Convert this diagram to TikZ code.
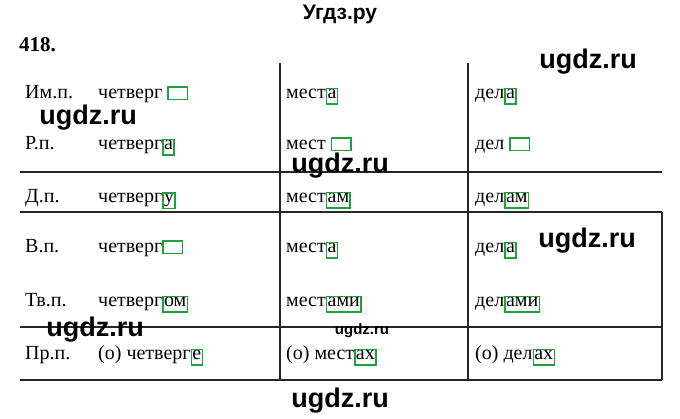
\documentclass[tikz,border=0pt]{standalone}
\usepackage{fontspec}
\setmainfont{Liberation Serif}
\newfontfamily\wm{Liberation Sans}
\definecolor{bg}{RGB}{30,160,60}
\newcommand\eb[1]{{\fboxrule=1.5pt\fboxsep=0.3pt\color{bg}\fbox{\color{black}\vphantom{д}#1}}}
\newcommand\ee{{\fboxrule=1.5pt\fboxsep=0pt\color{bg}\fbox{\rule{0pt}{11pt}\hspace{18pt}}}}
\begin{document}
\begin{tikzpicture}[x=1pt,y=-1pt,
  t/.style={anchor=base west,font=\fontsize{20}{20}\selectfont,inner sep=0pt},
  w/.style={font=\wm\bfseries\fontsize{27}{27}\selectfont,inner sep=0pt},
  ln/.style={line width=1.2pt,draw=black!85}]
\useasboundingbox (0,0) rectangle (680,419);
\node[w,font=\wm\bfseries\fontsize{21}{21}\selectfont] (h) at (340,14) {Угдз.ру};
\node[anchor=west,inner sep=0pt,font=\bfseries\fontsize{21}{21}\selectfont] (n) at (19,45) {418.};
% lines
\draw[ln] (20,172) -- (662,172);
\draw[ln] (20,212) -- (662,212);
\draw[ln] (20,327) -- (662,327);
\draw[ln] (20,380) -- (662,380);
\draw[ln] (280,63) -- (280,380);
\draw[ln] (468,63) -- (468,380);
\draw[ln] (662,212) -- (662,380);
% rows
\foreach \y/\c/\a/\b/\d/\nm in {
  99/Им.п./четверг \ee/мест\eb{а}/дел\eb{а}/r1,
  150/Р.п./четверг\eb{а}/мест \ee/дел \ee/r2,
  203/Д.п./четверг\eb{у}/мест\eb{ам}/дел\eb{ам}/r3,
  253/В.п./четверг\ee/мест\eb{а}/дел\eb{а}/r4,
  307/Тв.п./четверг\eb{ом}/мест\eb{ами}/дел\eb{ами}/r5,
  360/Пр.п./(о) четверг\eb{е}/(о) мест\eb{ах}/(о) дел\eb{ах}/r6}{
  \node[t] (\nm a) at (25,\y) {\c};
  \node[t] (\nm b) at (98,\y) {\a};
  \node[t] (\nm c) at (286,\y) {\b};
  \node[t] (\nm d) at (475,\y) {\d};
}
% watermarks
\node[w] (w1) at (588,62) {ugdz.ru};
\node[w] (w2) at (88,118) {ugdz.ru};
\node[w] (w3) at (340,166) {ugdz.ru};
\node[w] (w4) at (587,241) {ugdz.ru};
\node[w] (w5) at (95,330) {ugdz.ru};
\node[w,font=\wm\bfseries\fontsize{15}{15}\selectfont] (w6) at (362,331) {ugdz.ru};
\node[w] (w7) at (340,401) {ugdz.ru};
\end{tikzpicture}
\end{document}
